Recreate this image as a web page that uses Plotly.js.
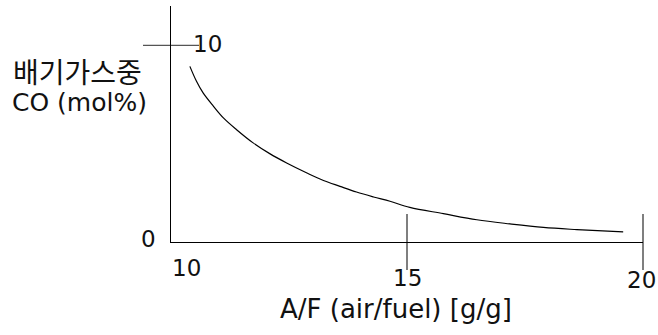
<!DOCTYPE html>
<html>
<head>
<meta charset="utf-8">
<script src="https://cdn.plot.ly/plotly-3.0.1.min.js"></script>
<style>html,body{margin:0;padding:0;background:#fff;}#chart{width:658px;height:335px;}</style>
</head>
<body>
<div id="chart"></div>
<script>
// Data
const afRatio = [10.40, 10.54, 10.68, 10.90, 11.11, 11.39, 11.74, 12.10, 12.45, 12.88, 13.23, 13.58, 13.93, 14.29, 14.64, 15.06, 15.77, 16.48, 17.18, 17.89, 18.60, 19.58];
const coMolPct = [8.93, 8.17, 7.58, 6.90, 6.31, 5.71, 5.04, 4.48, 4.02, 3.51, 3.13, 2.83, 2.54, 2.29, 2.07, 1.76, 1.44, 1.13, 0.92, 0.74, 0.63, 0.51];
const xTickVals = [10, 15, 20];
const xTickText = ['10', '15', '20'];
const xTickMarks = [15, 20];
const yTickVals = [0, 10];
const yTickText = ['0', '10'];
const yTickMarks = [10];
const xTitle = 'A/F (air/fuel) [g/g]';
const yTitleKo = '배기가스중';
const yTitleEn = 'CO (mol%)';

const FONT = '"DejaVu Sans", "Noto Sans CJK KR", sans-serif';
const tickCol = '#555';

const traces = [{
  x: afRatio, y: coMolPct, type: 'scatter', mode: 'lines',
  line: {color: '#000', width: 1.2, shape: 'spline', smoothing: 1},
  hoverinfo: 'skip', showlegend: false
}, {
  // crossing tick marks on the x axis
  x: xTickMarks, y: xTickMarks.map(() => 0), type: 'scatter', mode: 'markers', cliponaxis: false,
  marker: {symbol: 'line-ns-open', size: 40, color: tickCol, line: {color: tickCol, width: 1.5}},
  hoverinfo: 'skip', showlegend: false
}, {
  // crossing tick mark on the y axis
  x: yTickMarks.map(() => 10), y: yTickMarks, type: 'scatter', mode: 'markers', cliponaxis: false,
  marker: {symbol: 'line-ew-open', size: 40, color: tickCol, line: {color: tickCol, width: 1.2}},
  hoverinfo: 'skip', showlegend: false
}];

// tick label annotations (positions taken from the data scales)
const xLabelShift = [26, 36, 38];
const xLabelOffset = [15, 0, -2];
const ann = [];
xTickVals.forEach((v, i) => ann.push({
  x: v, y: 0, xref: 'x', yref: 'y', text: xTickText[i], showarrow: false,
  yshift: -xLabelShift[i], xshift: xLabelOffset[i], font: {family: FONT, size: 23, color: '#111'}
}));
ann.push({x: 10, y: yTickVals[0], xref: 'x', yref: 'y', text: yTickText[0], showarrow: false,
  xshift: -23, yshift: 3, font: {family: FONT, size: 23, color: '#111'}});
ann.push({x: 10, y: yTickVals[1], xref: 'x', yref: 'y', text: yTickText[1], showarrow: false,
  xshift: 36, yshift: 1, font: {family: FONT, size: 23, color: '#111'}});
ann.push({x: 0.5, y: 0, xref: 'paper', yref: 'paper', yanchor: 'middle', text: xTitle, showarrow: false,
  yshift: -67, xshift: -11, font: {family: FONT, size: 26, color: '#111'}});
ann.push({x: 0, y: 1, xref: 'paper', yref: 'paper', text: yTitleKo, showarrow: false,
  xanchor: 'center', yanchor: 'middle', xshift: -94, yshift: -65, font: {family: '"Noto Sans CJK KR", sans-serif', size: 28, color: '#111'}});
ann.push({x: 0, y: 1, xref: 'paper', yref: 'paper', text: yTitleEn, showarrow: false,
  xanchor: 'center', yanchor: 'middle', xshift: -92, yshift: -96, font: {family: FONT, size: 25, color: '#111'}});

const layout = {
  width: 658, height: 335,
  margin: {l: 171, r: 15, t: 6, b: 93},
  paper_bgcolor: '#fff', plot_bgcolor: '#fff',
  xaxis: {range: [10, 20], showgrid: false, zeroline: false, showticklabels: false, fixedrange: true,
    showline: true, linecolor: '#000', linewidth: 1, anchor: 'y', side: 'bottom', mirror: false,
    ticks: 'outside', ticklen: 0, tickvals: [15]},
  yaxis: {range: [0, 12], showgrid: false, zeroline: true, zerolinecolor: '#000', zerolinewidth: 1,
    showticklabels: false, fixedrange: true,
    showline: true, linecolor: '#000', linewidth: 1, ticks: ''},
  annotations: ann,
  showlegend: false
};

Plotly.newPlot('chart', traces, layout, {displayModeBar: false, staticPlot: true});
</script>
</body>
</html>
